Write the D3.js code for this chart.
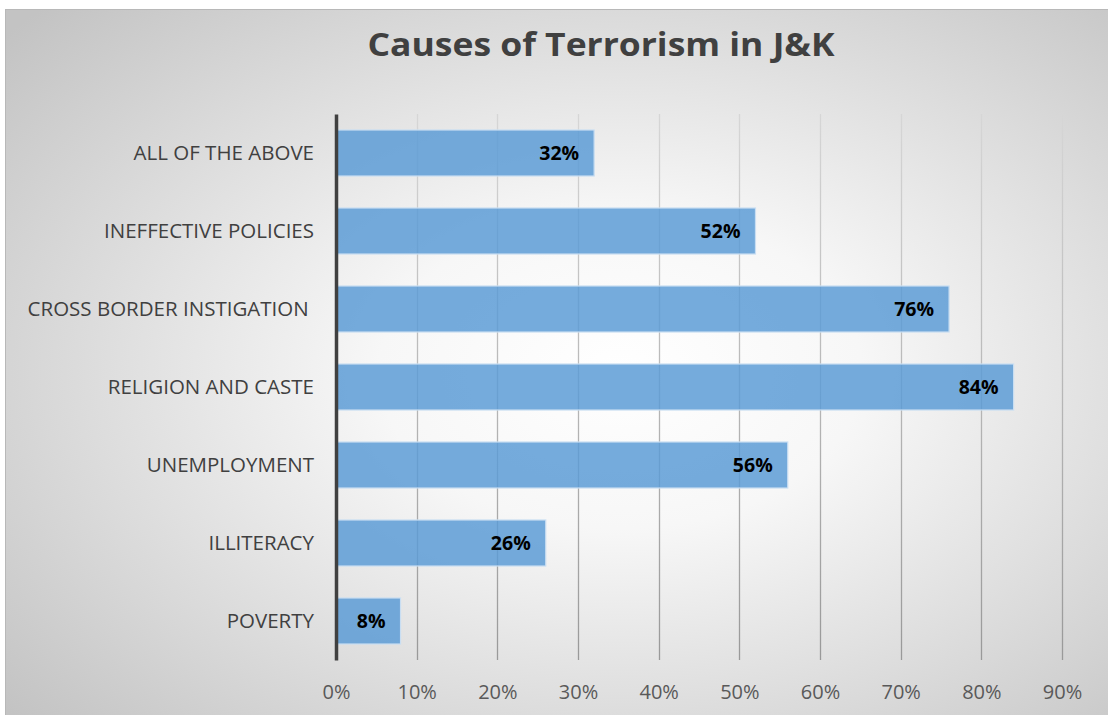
<!DOCTYPE html>
<html>
<head>
<meta charset="utf-8">
<script src="https://cdn.jsdelivr.net/npm/d3@7"></script>
<style>
  html, body { margin: 0; padding: 0; background: #ffffff; }
  svg { display: block; }
  text { font-family: "Open Sans", "Lato", sans-serif; }
</style>
</head>
<body>
<svg id="chart" width="1108" height="715"></svg>
<script>
// Survey results: share of respondents naming each cause
const categories = [
  "ALL OF THE ABOVE",
  "INEFFECTIVE POLICIES",
  "CROSS BORDER INSTIGATION ",
  "RELIGION AND CASTE",
  "UNEMPLOYMENT",
  "ILLITERACY",
  "POVERTY"
];
const values = [0.32, 0.52, 0.76, 0.84, 0.56, 0.26, 0.08];
const tickValues = [0, 0.1, 0.2, 0.3, 0.4, 0.5, 0.6, 0.7, 0.8, 0.9];
const title = "Causes of Terrorism in J&K";

const svg = d3.select("#chart");
const W = 1108, H = 715;
const margin = { left: 336, right: 46, top: 114, bottom: 55 };

const defs = svg.append("defs");

// Panel background: light centre fading to grey at the edges
const bg = defs.append("radialGradient")
  .attr("id", "bgGrad")
  .attr("cx", "0.55").attr("cy", "0.5").attr("r", "0.72");
bg.append("stop").attr("offset", "0").attr("stop-color", "#ffffff");
bg.append("stop").attr("offset", "0.3").attr("stop-color", "#f7f7f7");
bg.append("stop").attr("offset", "1").attr("stop-color", "#c3c3c3");

// Gridlines darken towards the bottom
const gg = defs.append("linearGradient")
  .attr("id", "gridGrad")
  .attr("gradientUnits", "userSpaceOnUse")
  .attr("x1", 0).attr("y1", margin.top).attr("x2", 0).attr("y2", H - margin.bottom);
gg.append("stop").attr("offset", "0").attr("stop-color", "#d6d6d6");
gg.append("stop").attr("offset", "1").attr("stop-color", "#999999");

svg.append("rect")
  .attr("x", 5.5).attr("y", 9.5)
  .attr("width", W + 10).attr("height", H + 10)
  .attr("fill", "url(#bgGrad)")
  .attr("stroke", "#b8b8b8").attr("stroke-width", 1);

const x = d3.scaleLinear()
  .domain([0, 0.9])
  .range([margin.left, W - margin.right]);

const y = d3.scaleBand()
  .domain(categories)
  .range([margin.top, H - margin.bottom])
  .paddingInner(0.41)
  .paddingOuter(0.205);

// Vertical gridlines
svg.append("g")
  .selectAll("line")
  .data(tickValues.slice(1))
  .join("line")
  .attr("x1", d => Math.round(x(d)) + 0.5)
  .attr("x2", d => Math.round(x(d)) + 0.5)
  .attr("y1", margin.top)
  .attr("y2", H - margin.bottom)
  .attr("stroke", "url(#gridGrad)")
  .attr("stroke-width", 1.3);

// X axis tick labels
const xAxis = d3.axisBottom(x)
  .tickValues(tickValues)
  .tickFormat(d3.format(".0%"))
  .tickSize(0)
  .tickPadding(0);
const gx = svg.append("g")
  .attr("transform", `translate(0, ${H - margin.bottom})`)
  .call(xAxis);
gx.select(".domain").remove();
gx.selectAll("text")
  .attr("y", 39)
  .attr("dy", 0)
  .attr("fill", "#595959")
  .style("font-size", "20px")
  .style("font-family", "'Open Sans', Lato, sans-serif");

// Bars
svg.append("g")
  .selectAll("rect")
  .data(categories)
  .join("rect")
  .attr("x", x(0))
  .attr("y", d => y(d))
  .attr("width", (d, i) => x(values[i]) - x(0))
  .attr("height", y.bandwidth())
  .attr("fill", "#5b9bd5")
  .attr("fill-opacity", 0.84)
  .attr("stroke", "#c9def2")
  .attr("stroke-width", 1.2);

// Value labels, inside the bar end
svg.append("g")
  .selectAll("text")
  .data(categories)
  .join("text")
  .attr("x", (d, i) => x(values[i]) - 15)
  .attr("y", d => y(d) + y.bandwidth() / 2 + 7)
  .attr("text-anchor", "end")
  .attr("fill", "#000000")
  .style("font-weight", "700")
  .style("font-size", "19.5px")
  .text((d, i) => d3.format(".0%")(values[i]));

// Category axis
const yAxis = d3.axisLeft(y).tickSize(0).tickPadding(22);
const gy = svg.append("g")
  .attr("transform", `translate(${margin.left}, 0)`)
  .call(yAxis);
gy.select(".domain")
  .attr("stroke", "#404040")
  .attr("stroke-width", 3.5);
gy.selectAll("text")
  .attr("fill", "#404040")
  .attr("dy", "0.36em")
  .style("font-size", "20.5px")
  .style("white-space", "pre")
  .style("font-family", "'Open Sans', Lato, sans-serif");

// Title
svg.append("text")
  .attr("x", 601)
  .attr("y", 56)
  .attr("text-anchor", "middle")
  .attr("fill", "#404040")
  .attr("textLength", 467)
  .attr("lengthAdjust", "spacingAndGlyphs")
  .style("font-weight", "700")
  .style("font-size", "32px")
  .text(title);
</script>
</body>
</html>
